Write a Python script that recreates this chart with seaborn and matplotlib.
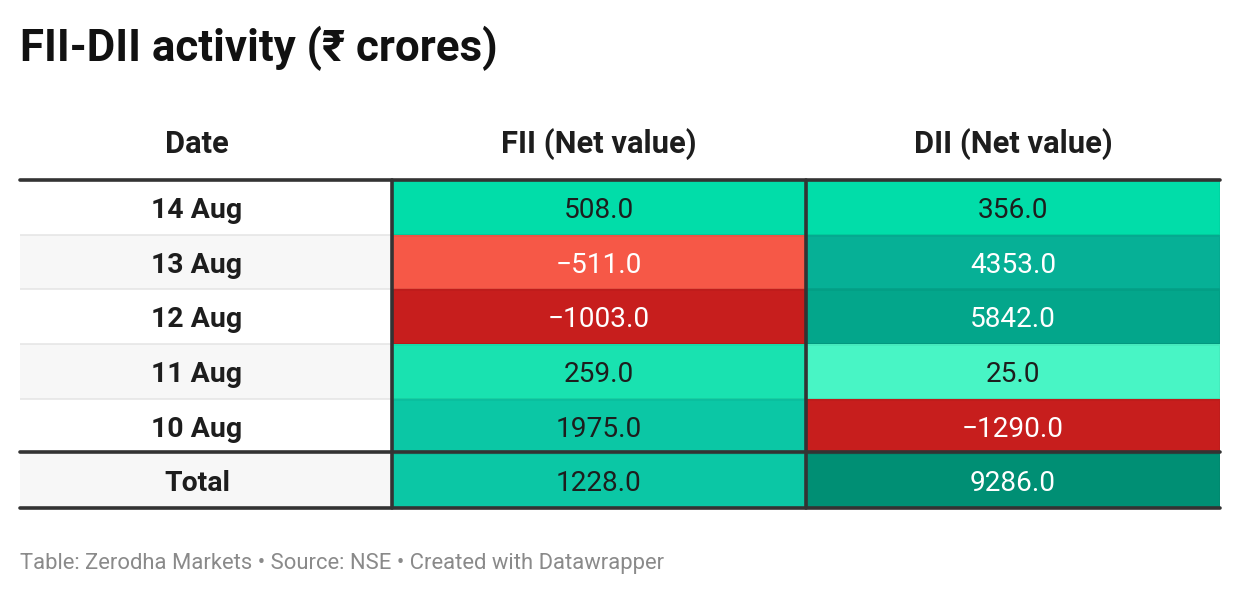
import numpy as np
import pandas as pd
import matplotlib
matplotlib.use("Agg")
import matplotlib.pyplot as plt
from matplotlib.colors import ListedColormap, BoundaryNorm
from matplotlib.lines import Line2D
from matplotlib.patches import Rectangle
import seaborn as sns

# ---------------- data ----------------
dates = ["14 Aug", "13 Aug", "12 Aug", "11 Aug", "10 Aug", "Total"]
fii = [508.0, -511.0, -1003.0, 259.0, 1975.0, 1228.0]
dii = [356.0, 4353.0, 5842.0, 25.0, -1290.0, 9286.0]
headers = ["Date", "FII (Net value)", "DII (Net value)"]
title = "FII-DII activity (₹ crores)"
footer = "Table: Zerodha Markets • Source: NSE • Created with Datawrapper"

# ---------------- style ----------------
sns.set_theme(style="white")
plt.rcParams["font.family"] = ["Roboto", "DejaVu Sans", "Noto Sans"]

W, H = 1240, 596
fig = plt.figure(figsize=(W / 100, H / 100), dpi=100)
fig.patch.set_facecolor("white")


def rect(x0, y0, x1, y1):
    return [x0 / W, 1 - y1 / H, (x1 - x0) / W, (y1 - y0) / H]


def fx(x):
    return x / W


def fy(y):
    return 1 - y / H


TOP, BOT = 180, 508
XL, XD, XM, XR = 20, 392, 806, 1220

# colour scale (stepped, like the Datawrapper table)
bounds = [-2000, -1000, 0, 100, 300, 1000, 2000, 5000, 7000, 10000]
cols = ["#c71e1d", "#f65847", "#48f5c5", "#19e2b0", "#01dda9",
        "#0bc7a5", "#06b096", "#03a68b", "#008f74"]
cmap = ListedColormap(cols)
norm = BoundaryNorm(bounds, cmap.N)

df = pd.DataFrame({headers[1]: fii, headers[2]: dii}, index=dates)
labels = df.map(lambda v: f"{v:.1f}".replace("-", "\u2212"))

# ---------------- heatmap of values ----------------
ax = fig.add_axes(rect(XD, TOP, XR, BOT))
sns.heatmap(df, ax=ax, cmap=cmap, norm=norm, annot=labels, fmt="",
            cbar=False, xticklabels=False, yticklabels=False,
            linewidths=0.8, linecolor=(0, 0, 0, 0.04),
            annot_kws={"fontsize": 20.2, "family": ["Roboto", "DejaVu Sans"]})
for t in ax.texts:
    c = matplotlib.colors.to_rgba(t.get_color())
    t.set_color("white" if c[0] > 0.9 else "#1d1d1d")
    t.set_y(t.get_position()[1] + 0.06)
ax.set_xlabel("")
ax.set_ylabel("")

# ---------------- date column ----------------
axd = fig.add_axes(rect(XL, TOP, XD, BOT))
axd.set_xlim(0, 1)
axd.set_ylim(len(dates), 0)
axd.axis("off")
for i, d in enumerate(dates):
    bg = "#f7f7f7" if i % 2 == 1 else "white"
    axd.add_patch(Rectangle((0, i), 1, 1, facecolor=bg, edgecolor="none"))
    axd.text((197 - XL) / (XD - XL), i + 0.56, d, ha="center", va="center",
             fontsize=20.4, fontweight="bold", color="#1d1d1d")
for i in range(1, len(dates) - 1):
    axd.plot([0, 1], [i, i], color="#e6e6e6", lw=1.2)

# ---------------- headers ----------------
hx = [197, (XD + XM) / 2, (XM + XR) / 2]
for x, h in zip(hx, headers):
    fig.text(fx(x), fy(144), h, ha="center", va="center", fontsize=22.2,
             fontweight="bold", color="#1d1d1d")

# ---------------- thick rules ----------------
lc = "#333333"
lw = 2.6
for y in (TOP, 452, BOT):
    fig.add_artist(Line2D([fx(XL), fx(XR)], [fy(y), fy(y)], color=lc, lw=lw,
                          transform=fig.transFigure))
for x in (XD, XM):
    fig.add_artist(Line2D([fx(x), fx(x)], [fy(TOP), fy(BOT)], color=lc, lw=lw,
                          transform=fig.transFigure))

# ---------------- title & footer ----------------
fig.text(fx(20), fy(61), title, ha="left", va="baseline", fontsize=31.6,
         fontweight="bold", color="#111111")
fig.text(fx(20), fy(569), footer, ha="left", va="baseline", fontsize=15.85,
         color="#8a8a8a")

fig.savefig("out.png", dpi=100)
